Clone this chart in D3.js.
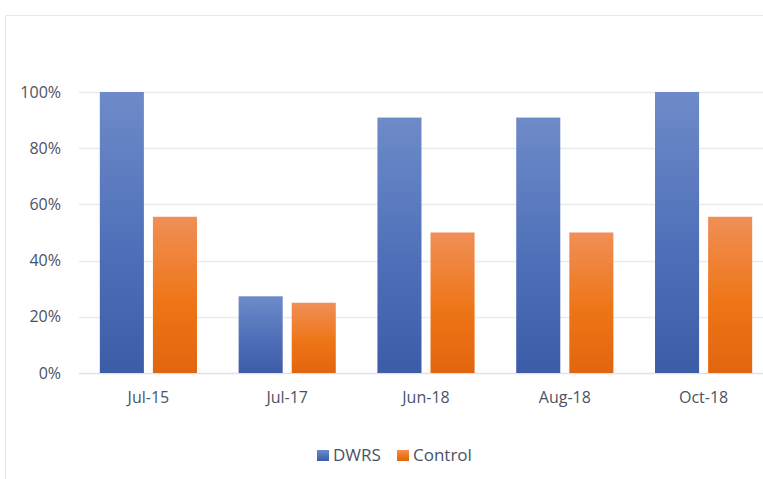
<!DOCTYPE html>
<html>
<head>
<meta charset="utf-8">
<script src="https://cdn.jsdelivr.net/npm/d3@7"></script>
<style>
  body { margin: 0; background: #fff; }
  text { font-family: "Open Sans", "Noto Sans", sans-serif; fill: #4a5366; }
</style>
</head>
<body>
<svg id="chart"></svg>
<script>
const categories = ['Jul-15', 'Jul-17', 'Jun-18', 'Aug-18', 'Oct-18'];
const seriesNames = ['DWRS', 'Control'];
const dwrsValues = [1.0, 0.273, 0.909, 0.909, 1.0];
const controlValues = [0.556, 0.25, 0.5, 0.5, 0.556];
const yTicks = [0, 0.2, 0.4, 0.6, 0.8, 1.0];

const width = 763;
const height = 479;
const margin = { top: 92, right: -10, bottom: 106, left: 79 };

const svg = d3.select('#chart')
  .attr('width', width)
  .attr('height', height);

// gradients
const defs = svg.append('defs');
const gradients = [
  { id: 'gradBlue', stops: ['#6e8ac8', '#4f70b9', '#3d5ca7'] },
  { id: 'gradOrange', stops: ['#f08f57', '#ee7516', '#e2650f'] }
];
gradients.forEach(g => {
  const lg = defs.append('linearGradient')
    .attr('id', g.id)
    .attr('x1', 0).attr('y1', 0).attr('x2', 0).attr('y2', 1);
  lg.append('stop').attr('offset', '0%').attr('stop-color', g.stops[0]);
  lg.append('stop').attr('offset', '55%').attr('stop-color', g.stops[1]);
  lg.append('stop').attr('offset', '100%').attr('stop-color', g.stops[2]);
});

// chart frame (cropped at right/bottom)
svg.append('path')
  .attr('d', `M5.5,${height} V15.5 H${width}`)
  .attr('fill', 'none')
  .attr('stroke', '#e4e8ee')
  .attr('stroke-width', 1);

const x0 = d3.scaleBand()
  .domain(categories)
  .range([margin.left, width - margin.right])
  .paddingInner(0.30)
  .paddingOuter(0.15);

const x1 = d3.scaleBand()
  .domain(seriesNames)
  .range([0, x0.bandwidth()])
  .paddingInner(0.17);

const y = d3.scaleLinear()
  .domain([0, 1])
  .range([height - margin.bottom, margin.top]);

// gridlines
svg.append('g')
  .selectAll('line')
  .data(yTicks)
  .join('line')
  .attr('x1', margin.left)
  .attr('x2', width)
  .attr('y1', d => Math.round(y(d)) + 0.5)
  .attr('y2', d => Math.round(y(d)) + 0.5)
  .attr('stroke', d => d === 0 ? '#dde2ea' : '#e8ecf2')
  .attr('stroke-width', 1.3);

// y axis labels
const yAxis = d3.axisLeft(y)
  .tickValues(yTicks)
  .tickFormat(d3.format('.0%'))
  .tickSize(0)
  .tickPadding(0);
const yG = svg.append('g')
  .attr('transform', `translate(61,0)`)
  .call(yAxis);
yG.select('.domain').remove();
yG.selectAll('text')
  .attr('font-size', 16)
  .attr('font-family', null)
  .attr('fill', null);

// bars
const data = categories.map((c, i) => ({
  category: c,
  values: [
    { key: 'DWRS', value: dwrsValues[i], fill: 'url(#gradBlue)' },
    { key: 'Control', value: controlValues[i], fill: 'url(#gradOrange)' }
  ]
}));

svg.append('g')
  .selectAll('g')
  .data(data)
  .join('g')
  .attr('transform', d => `translate(${x0(d.category)},0)`)
  .selectAll('rect')
  .data(d => d.values)
  .join('rect')
  .attr('x', d => x1(d.key))
  .attr('width', x1.bandwidth())
  .attr('y', d => y(d.value))
  .attr('height', d => y(0) - y(d.value))
  .attr('fill', d => d.fill);

// x axis labels
const xAxis = d3.axisBottom(x0).tickSize(0).tickPadding(0);
const xG = svg.append('g')
  .attr('transform', `translate(0,${y(0)})`)
  .call(xAxis);
xG.select('.domain').remove();
xG.selectAll('text')
  .attr('y', 30)
  .attr('dy', null)
  .attr('font-size', 16)
  .attr('font-family', null)
  .attr('fill', null);

// legend
const legend = svg.append('g')
  .attr('transform', 'translate(317,450)');
const legendItems = [
  { name: seriesNames[0], fill: 'url(#gradBlue)', x: 0 },
  { name: seriesNames[1], fill: 'url(#gradOrange)', x: 80 }
];
const li = legend.selectAll('g')
  .data(legendItems)
  .join('g')
  .attr('transform', d => `translate(${d.x},0)`);
li.append('rect')
  .attr('width', 12)
  .attr('height', 11)
  .attr('fill', d => d.fill);
li.append('text')
  .attr('x', 16)
  .attr('y', 11)
  .attr('font-size', 17)
  .text(d => d.name);
</script>
</body>
</html>
